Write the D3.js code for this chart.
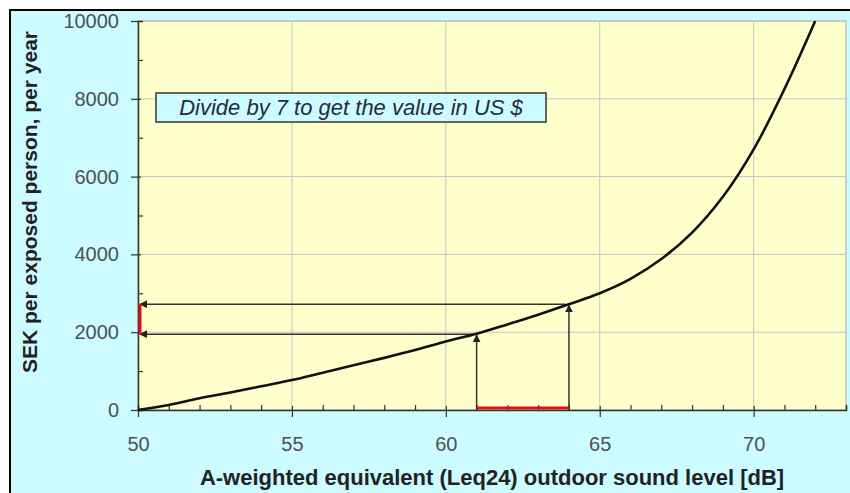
<!DOCTYPE html>
<html>
<head>
<meta charset="utf-8">
<script src="https://cdn.jsdelivr.net/npm/d3@7"></script>
<style>
  body { margin: 0; background: #fff; }
  svg { display: block; font-family: "Liberation Sans", Arial, sans-serif; }
</style>
</head>
<body>
<div id="chart"></div>
<script>
// sound level (dB) and cost (SEK per exposed person per year)
const levels = [50, 51, 52, 53, 54, 55, 56, 57, 58, 59, 60, 61, 62, 63, 64, 65, 66, 67, 68, 69, 70, 71, 72];
const costs  = [0, 130, 300, 450, 610, 770, 960, 1150, 1340, 1540, 1760, 1960, 2200, 2450, 2720, 3000, 3370, 3880, 4560, 5480, 6700, 8250, 10000];

// the worked example: two levels and the cost read for each
const exampleLevels = [61, 64];
const exampleCosts = [1950, 2720];

const xTicks = [50, 55, 60, 65, 70];
const yTicks = [0, 2000, 4000, 6000, 8000, 10000];
const note = "Divide by 7 to get the value in US $";

const width = 850, height = 493;
const margin = {top: 21, right: 4, bottom: 83, left: 138};

const svg = d3.select("#chart").append("svg")
    .attr("width", width)
    .attr("height", height);

// outer panel
svg.append("rect")
    .attr("x", 10).attr("y", 10)
    .attr("width", width + 10).attr("height", height + 10)
    .attr("fill", "#ccfcff")
    .attr("stroke", "#000")
    .attr("stroke-width", 2);

const x = d3.scaleLinear().domain([50, 73]).range([margin.left, width - margin.right]);
const y = d3.scaleLinear().domain([0, 10000]).range([height - margin.bottom, margin.top]);

// plot area
svg.append("rect")
    .attr("x", x(50)).attr("y", y(10000))
    .attr("width", x(73) - x(50)).attr("height", y(0) - y(10000))
    .attr("fill", "#ffffcc")
    .attr("stroke", "#a8a8a8");

// gridlines
svg.append("g").selectAll("line").data(xTicks.slice(1)).join("line")
    .attr("x1", d => x(d)).attr("x2", d => x(d))
    .attr("y1", y(0)).attr("y2", y(10000))
    .attr("stroke", "#c4c4c4");
svg.append("g").selectAll("line").data(yTicks.slice(1)).join("line")
    .attr("x1", x(50)).attr("x2", x(73))
    .attr("y1", d => y(d)).attr("y2", d => y(d))
    .attr("stroke", "#c4c4c4");

// note box
const box = svg.append("g");
box.append("rect")
    .attr("x", 156).attr("y", 93)
    .attr("width", 390).attr("height", 29)
    .attr("fill", "#ccfcff")
    .attr("stroke", "#333")
    .attr("stroke-width", 1.5);
box.append("text")
    .attr("x", 351).attr("y", 115)
    .attr("text-anchor", "middle")
    .style("font-size", "22px")
    .style("font-style", "italic")
    .attr("fill", "#2a2a3a")
    .text(note);

// axes (major ticks cross outwards, minor ticks point inside)
const xAxis = svg.append("g").attr("transform", `translate(0,${y(0)})`);
xAxis.call(d3.axisBottom(x).tickValues(d3.range(51, 74)).tickSize(-5).tickFormat(""));
xAxis.call(g => g.selectAll(".tick").filter(d => d % 5 === 0).remove());
const xMajor = svg.append("g").attr("transform", `translate(0,${y(0)})`)
    .call(d3.axisBottom(x).tickValues(xTicks).tickSize(7).tickPadding(20).tickFormat(d3.format("d")));
xMajor.select(".domain").remove();
xMajor.selectAll(".tick line").attr("y1", -4);

const yAxis = svg.append("g").attr("transform", `translate(${x(50)},0)`);
yAxis.call(d3.axisLeft(y).tickValues(d3.range(1000, 10000, 2000)).tickSize(-5).tickFormat(""));
const yMajor = svg.append("g").attr("transform", `translate(${x(50)},0)`)
    .call(d3.axisLeft(y).tickValues(yTicks).tickSize(7).tickPadding(12).tickFormat(d3.format("d")));
yMajor.select(".domain").remove();
yMajor.selectAll(".tick line").attr("x1", 3);

svg.selectAll(".domain").attr("stroke", "#333").attr("stroke-width", 1.5);
svg.selectAll(".tick line").attr("stroke", "#333").attr("stroke-width", 1.2);
svg.selectAll(".tick text")
    .attr("fill", "#505050")
    .style("font-size", "20px")
    .style("font-family", "'Liberation Sans', Arial, sans-serif");

// arrow markers
svg.append("defs").append("marker")
    .attr("id", "arrow")
    .attr("viewBox", "0 0 10 10")
    .attr("refX", 9).attr("refY", 5)
    .attr("markerWidth", 8).attr("markerHeight", 8)
    .attr("markerUnits", "userSpaceOnUse")
    .attr("orient", "auto")
    .append("path")
    .attr("d", "M0,0L10,5L0,10z")
    .attr("fill", "#222");

// worked example arrows
exampleLevels.forEach((lv, i) => {
    const c = exampleCosts[i];
    svg.append("line")
        .attr("x1", x(lv)).attr("x2", x(lv))
        .attr("y1", y(0)).attr("y2", y(c) + 1)
        .attr("stroke", "#333").attr("stroke-width", 1.5)
        .attr("marker-end", "url(#arrow)");
    svg.append("line")
        .attr("x1", x(lv) - 4).attr("x2", x(50) + 2)
        .attr("y1", y(c)).attr("y2", y(c))
        .attr("stroke", "#333").attr("stroke-width", 1.5)
        .attr("marker-end", "url(#arrow)");
});

// red ranges on both axes
svg.append("line")
    .attr("x1", x(exampleLevels[0])).attr("x2", x(exampleLevels[1]))
    .attr("y1", y(0) - 2).attr("y2", y(0) - 2)
    .attr("stroke", "#e01010").attr("stroke-width", 3);
svg.append("line")
    .attr("x1", x(50) + 2).attr("x2", x(50) + 2)
    .attr("y1", y(exampleCosts[0])).attr("y2", y(exampleCosts[1]))
    .attr("stroke", "#e01010").attr("stroke-width", 3);

// the cost curve
const line = d3.line()
    .x((d, i) => x(levels[i]))
    .y(d => y(d))
    .curve(d3.curveCatmullRom);
svg.append("path")
    .datum(costs)
    .attr("fill", "none")
    .attr("stroke", "#111")
    .attr("stroke-width", 2.6)
    .attr("d", line);

// axis titles
svg.append("text")
    .attr("x", 492).attr("y", 485)
    .attr("text-anchor", "middle")
    .style("font-size", "22px")
    .style("font-weight", "bold")
    .attr("fill", "#222")
    .text("A-weighted equivalent (Leq24) outdoor sound level [dB]");
svg.append("text")
    .attr("transform", "translate(37,202) rotate(-90)")
    .attr("text-anchor", "middle")
    .style("font-size", "21px")
    .style("font-weight", "bold")
    .attr("fill", "#222")
    .text("SEK per exposed person, per year");
</script>
</body>
</html>
